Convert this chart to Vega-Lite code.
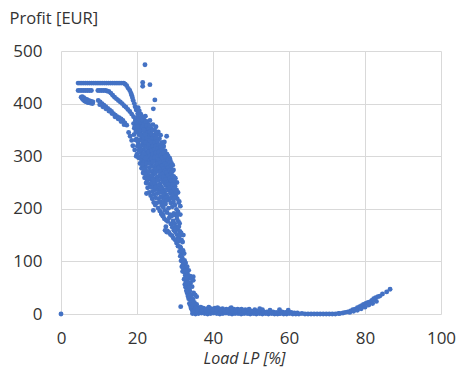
{
  "$schema": "https://vega.github.io/schema/vega-lite/v6.json",
  "width": 380,
  "height": 263,
  "autosize": "none",
  "padding": {"left": 61, "top": 51, "right": 19, "bottom": 53},
  "config": {
    "view": {"stroke": null},
    "font": "Open Sans",
    "axis": {
      "labelFont": "Open Sans",
      "titleFont": "Open Sans",
      "labelColor": "#333333",
      "titleColor": "#333333",
      "gridColor": "#d9d9d9",
      "gridWidth": 1,
      "ticks": false,
      "tickSize": 0,
      "domain": false,
      "labelFontSize": 17,
      "labelFlush": false,
      "titleFontWeight": "normal"
    }
  },
  "data": {
    "values": [
      {"load": 0, "profit": 0},
      {"load": 4.5, "profit": 439}, {"load": 5.0, "profit": 439}, {"load": 5.5, "profit": 439}, {"load": 6.0, "profit": 439},
      {"load": 6.5, "profit": 439}, {"load": 7.0, "profit": 439}, {"load": 7.5, "profit": 439}, {"load": 8.0, "profit": 439},
      {"load": 8.5, "profit": 439}, {"load": 9.0, "profit": 439}, {"load": 9.5, "profit": 439}, {"load": 10.0, "profit": 439},
      {"load": 10.5, "profit": 439}, {"load": 11.0, "profit": 439}, {"load": 11.5, "profit": 439}, {"load": 12.0, "profit": 439},
      {"load": 12.5, "profit": 439}, {"load": 13.0, "profit": 439}, {"load": 13.5, "profit": 439}, {"load": 14.0, "profit": 439},
      {"load": 14.5, "profit": 439}, {"load": 15.0, "profit": 439}, {"load": 15.5, "profit": 439}, {"load": 16.0, "profit": 439},
      {"load": 16.5, "profit": 439},
      {"load": 16.9, "profit": 437}, {"load": 17.3, "profit": 434}, {"load": 17.7, "profit": 429}, {"load": 18.1, "profit": 425},
      {"load": 18.4, "profit": 420}, {"load": 18.6, "profit": 416}, {"load": 18.8, "profit": 411}, {"load": 19.0, "profit": 406},
      {"load": 19.3, "profit": 400}, {"load": 19.5, "profit": 394}, {"load": 19.8, "profit": 388}, {"load": 20.2, "profit": 381},

      {"load": 4.5, "profit": 425}, {"load": 5.0, "profit": 425}, {"load": 5.5, "profit": 425}, {"load": 6.0, "profit": 425},
      {"load": 6.5, "profit": 425}, {"load": 7.0, "profit": 425}, {"load": 7.5, "profit": 425}, {"load": 8.0, "profit": 425},
      {"load": 9.7, "profit": 425}, {"load": 10.2, "profit": 425}, {"load": 10.7, "profit": 425}, {"load": 11.2, "profit": 425},
      {"load": 11.7, "profit": 425}, {"load": 12.1, "profit": 424}, {"load": 12.6, "profit": 423}, {"load": 13.1, "profit": 420},
      {"load": 13.6, "profit": 416}, {"load": 14.1, "profit": 412}, {"load": 14.6, "profit": 409}, {"load": 15.1, "profit": 406},
      {"load": 15.6, "profit": 403}, {"load": 16.1, "profit": 400}, {"load": 16.6, "profit": 396}, {"load": 17.1, "profit": 393},
      {"load": 17.6, "profit": 389}, {"load": 18.1, "profit": 385}, {"load": 18.6, "profit": 380}, {"load": 19.1, "profit": 375},
      {"load": 19.6, "profit": 369}, {"load": 20.1, "profit": 363}, {"load": 20.6, "profit": 357},

      {"load": 5.3, "profit": 412}, {"load": 5.6, "profit": 409}, {"load": 5.9, "profit": 407}, {"load": 6.2, "profit": 405},
      {"load": 6.5, "profit": 404}, {"load": 6.8, "profit": 403}, {"load": 7.1, "profit": 402}, {"load": 7.4, "profit": 402},
      {"load": 7.7, "profit": 401}, {"load": 8.0, "profit": 401}, {"load": 8.3, "profit": 400}, {"load": 5.6, "profit": 413},
      {"load": 6.0, "profit": 411}, {"load": 6.4, "profit": 409}, {"load": 6.8, "profit": 408}, {"load": 7.2, "profit": 406},
      {"load": 7.6, "profit": 405}, {"load": 8.0, "profit": 404}, {"load": 8.4, "profit": 403},
      {"load": 9.8, "profit": 406}, {"load": 10.3, "profit": 403}, {"load": 10.8, "profit": 400}, {"load": 11.3, "profit": 397},
      {"load": 11.8, "profit": 394}, {"load": 12.3, "profit": 391}, {"load": 12.8, "profit": 388}, {"load": 13.3, "profit": 385},
      {"load": 13.8, "profit": 381}, {"load": 14.3, "profit": 378}, {"load": 14.8, "profit": 375}, {"load": 15.3, "profit": 373},
      {"load": 15.8, "profit": 371}, {"load": 16.3, "profit": 368}, {"load": 16.8, "profit": 363}, {"load": 17.3, "profit": 359},
      {"load": 10.2, "profit": 398}, {"load": 11.0, "profit": 394}, {"load": 11.8, "profit": 390}, {"load": 12.6, "profit": 386},
      {"load": 13.4, "profit": 381}, {"load": 14.2, "profit": 375}, {"load": 15.0, "profit": 371}, {"load": 15.8, "profit": 366},
      {"load": 16.6, "profit": 360}, {"load": 17.8, "profit": 345}, {"load": 18.2, "profit": 338}, {"load": 18.6, "profit": 330},
      {"load": 18.9, "profit": 320}, {"load": 19.4, "profit": 312}, {"load": 19.8, "profit": 300},

      {"load": 22.1, "profit": 474}, {"load": 21.5, "profit": 440}, {"load": 21.5, "profit": 433}, {"load": 23.4, "profit": 436},
      {"load": 24.7, "profit": 407}, {"load": 24.3, "profit": 390},
      {"load": 22.5, "profit": 229}, {"load": 24.3, "profit": 197}, {"load": 26.9, "profit": 188}, {"load": 27.8, "profit": 156},
      {"load": 26.5, "profit": 191}, {"load": 27.4, "profit": 159},

      {"load": 19.2, "profit": 341}, {"load": 19.3, "profit": 353}, {"load": 19.1, "profit": 362},
      {"load": 19.6, "profit": 331}, {"load": 19.7, "profit": 346}, {"load": 19.5, "profit": 357}, {"load": 19.6, "profit": 367},
      {"load": 20.0, "profit": 304}, {"load": 20.1, "profit": 319}, {"load": 19.9, "profit": 333}, {"load": 20.0, "profit": 349}, {"load": 20.1, "profit": 361}, {"load": 20.2, "profit": 374},
      {"load": 20.4, "profit": 297}, {"load": 20.5, "profit": 311}, {"load": 20.3, "profit": 326}, {"load": 20.5, "profit": 341}, {"load": 20.4, "profit": 353}, {"load": 20.6, "profit": 366},
      {"load": 20.8, "profit": 286}, {"load": 20.9, "profit": 299}, {"load": 20.7, "profit": 316}, {"load": 20.9, "profit": 331}, {"load": 20.8, "profit": 344}, {"load": 21.0, "profit": 357},
      {"load": 21.2, "profit": 277}, {"load": 21.3, "profit": 291}, {"load": 21.1, "profit": 306}, {"load": 21.3, "profit": 321}, {"load": 21.2, "profit": 337}, {"load": 21.4, "profit": 349}, {"load": 21.2, "profit": 362},
      {"load": 21.6, "profit": 268}, {"load": 21.7, "profit": 283}, {"load": 21.5, "profit": 297}, {"load": 21.7, "profit": 313}, {"load": 21.6, "profit": 327}, {"load": 21.8, "profit": 341}, {"load": 21.6, "profit": 354},
      {"load": 22.0, "profit": 259}, {"load": 22.1, "profit": 272}, {"load": 21.9, "profit": 289}, {"load": 22.1, "profit": 303}, {"load": 22.0, "profit": 318}, {"load": 22.2, "profit": 332}, {"load": 22.0, "profit": 347}, {"load": 22.1, "profit": 358},
      {"load": 22.4, "profit": 249}, {"load": 22.5, "profit": 263}, {"load": 22.3, "profit": 279}, {"load": 22.5, "profit": 293}, {"load": 22.4, "profit": 309}, {"load": 22.6, "profit": 326}, {"load": 22.4, "profit": 339}, {"load": 22.5, "profit": 351},
      {"load": 22.8, "profit": 240}, {"load": 22.9, "profit": 255}, {"load": 22.7, "profit": 271}, {"load": 22.9, "profit": 287}, {"load": 22.8, "profit": 301}, {"load": 23.0, "profit": 315}, {"load": 22.8, "profit": 330}, {"load": 22.9, "profit": 344},
      {"load": 23.2, "profit": 231}, {"load": 23.3, "profit": 247}, {"load": 23.1, "profit": 262}, {"load": 23.3, "profit": 278}, {"load": 23.2, "profit": 294}, {"load": 23.4, "profit": 309}, {"load": 23.2, "profit": 323}, {"load": 23.3, "profit": 339},
      {"load": 23.6, "profit": 225}, {"load": 23.7, "profit": 241}, {"load": 23.5, "profit": 256}, {"load": 23.7, "profit": 271}, {"load": 23.6, "profit": 288}, {"load": 23.8, "profit": 302}, {"load": 23.6, "profit": 317}, {"load": 23.7, "profit": 333},
      {"load": 24.0, "profit": 219}, {"load": 24.1, "profit": 233}, {"load": 23.9, "profit": 249}, {"load": 24.1, "profit": 264}, {"load": 24.0, "profit": 281}, {"load": 24.2, "profit": 296}, {"load": 24.0, "profit": 311}, {"load": 24.1, "profit": 327}, {"load": 24.0, "profit": 341},
      {"load": 24.4, "profit": 212}, {"load": 24.5, "profit": 227}, {"load": 24.3, "profit": 243}, {"load": 24.5, "profit": 257}, {"load": 24.4, "profit": 273}, {"load": 24.6, "profit": 291}, {"load": 24.4, "profit": 304}, {"load": 24.5, "profit": 319}, {"load": 24.4, "profit": 333},
      {"load": 24.8, "profit": 207}, {"load": 24.9, "profit": 221}, {"load": 24.7, "profit": 236}, {"load": 24.9, "profit": 253}, {"load": 24.8, "profit": 268}, {"load": 25.0, "profit": 283}, {"load": 24.8, "profit": 299}, {"load": 24.9, "profit": 314}, {"load": 24.8, "profit": 327},
      {"load": 25.2, "profit": 211}, {"load": 25.3, "profit": 229}, {"load": 25.1, "profit": 245}, {"load": 25.3, "profit": 261}, {"load": 25.2, "profit": 279}, {"load": 25.4, "profit": 292}, {"load": 25.2, "profit": 307}, {"load": 25.3, "profit": 321},
      {"load": 25.6, "profit": 201}, {"load": 25.7, "profit": 219}, {"load": 25.5, "profit": 237}, {"load": 25.7, "profit": 254}, {"load": 25.6, "profit": 271}, {"load": 25.8, "profit": 286}, {"load": 25.6, "profit": 301}, {"load": 25.7, "profit": 315},
      {"load": 26.0, "profit": 196}, {"load": 26.1, "profit": 213}, {"load": 25.9, "profit": 231}, {"load": 26.1, "profit": 247}, {"load": 26.0, "profit": 263}, {"load": 26.2, "profit": 281}, {"load": 26.0, "profit": 295}, {"load": 26.1, "profit": 309},
      {"load": 26.4, "profit": 190}, {"load": 26.5, "profit": 207}, {"load": 26.3, "profit": 223}, {"load": 26.5, "profit": 241}, {"load": 26.4, "profit": 259}, {"load": 26.6, "profit": 274}, {"load": 26.4, "profit": 289}, {"load": 26.5, "profit": 305},
      {"load": 26.8, "profit": 186}, {"load": 26.9, "profit": 203}, {"load": 26.7, "profit": 221}, {"load": 26.9, "profit": 237}, {"load": 26.8, "profit": 253}, {"load": 27.0, "profit": 269}, {"load": 26.8, "profit": 285}, {"load": 26.9, "profit": 299}, {"load": 26.9, "profit": 321},
      {"load": 27.2, "profit": 181}, {"load": 27.3, "profit": 197}, {"load": 27.1, "profit": 213}, {"load": 27.3, "profit": 233}, {"load": 27.2, "profit": 249}, {"load": 27.4, "profit": 265}, {"load": 27.2, "profit": 281}, {"load": 27.3, "profit": 295},
      {"load": 27.6, "profit": 166}, {"load": 27.7, "profit": 178}, {"load": 27.5, "profit": 209}, {"load": 27.7, "profit": 227}, {"load": 27.6, "profit": 245}, {"load": 27.8, "profit": 263}, {"load": 27.6, "profit": 277}, {"load": 27.7, "profit": 291}, {"load": 27.8, "profit": 338},
      {"load": 28.0, "profit": 158}, {"load": 28.1, "profit": 176}, {"load": 27.9, "profit": 193}, {"load": 28.1, "profit": 222}, {"load": 28.0, "profit": 239}, {"load": 28.2, "profit": 257}, {"load": 28.0, "profit": 273}, {"load": 28.1, "profit": 287},
      {"load": 28.4, "profit": 155}, {"load": 28.5, "profit": 183}, {"load": 28.3, "profit": 201}, {"load": 28.5, "profit": 217}, {"load": 28.4, "profit": 235}, {"load": 28.6, "profit": 251}, {"load": 28.4, "profit": 267}, {"load": 28.5, "profit": 283},
      {"load": 28.8, "profit": 151}, {"load": 28.9, "profit": 171}, {"load": 28.7, "profit": 189}, {"load": 28.9, "profit": 211}, {"load": 28.8, "profit": 229}, {"load": 29.0, "profit": 247}, {"load": 28.8, "profit": 263}, {"load": 28.9, "profit": 277},
      {"load": 29.2, "profit": 149}, {"load": 29.3, "profit": 165}, {"load": 29.1, "profit": 186}, {"load": 29.3, "profit": 204}, {"load": 29.2, "profit": 221}, {"load": 29.4, "profit": 239}, {"load": 29.2, "profit": 255}, {"load": 29.3, "profit": 271},
      {"load": 29.6, "profit": 144}, {"load": 29.7, "profit": 159}, {"load": 29.5, "profit": 177}, {"load": 29.7, "profit": 191}, {"load": 29.6, "profit": 213}, {"load": 29.8, "profit": 231}, {"load": 29.6, "profit": 249}, {"load": 29.7, "profit": 261},
      {"load": 30.0, "profit": 141}, {"load": 30.1, "profit": 156}, {"load": 29.9, "profit": 172}, {"load": 30.1, "profit": 188}, {"load": 30.0, "profit": 207}, {"load": 30.2, "profit": 225}, {"load": 30.0, "profit": 243},
      {"load": 30.4, "profit": 135}, {"load": 30.5, "profit": 151}, {"load": 30.3, "profit": 166}, {"load": 30.5, "profit": 181}, {"load": 30.4, "profit": 199}, {"load": 30.6, "profit": 219}, {"load": 30.4, "profit": 236},
      {"load": 30.8, "profit": 129}, {"load": 30.9, "profit": 146}, {"load": 30.7, "profit": 161}, {"load": 30.9, "profit": 176}, {"load": 30.8, "profit": 194}, {"load": 31.0, "profit": 212},
      {"load": 31.2, "profit": 119}, {"load": 31.3, "profit": 128}, {"load": 31.1, "profit": 143}, {"load": 31.3, "profit": 157}, {"load": 31.2, "profit": 172}, {"load": 31.4, "profit": 189},
      {"load": 31.6, "profit": 101}, {"load": 31.7, "profit": 113}, {"load": 31.5, "profit": 126}, {"load": 31.7, "profit": 141}, {"load": 31.6, "profit": 154},
      {"load": 32.0, "profit": 81}, {"load": 32.1, "profit": 94}, {"load": 31.9, "profit": 107}, {"load": 32.1, "profit": 121}, {"load": 32.0, "profit": 137}, {"load": 32.2, "profit": 150},
      {"load": 32.4, "profit": 66}, {"load": 32.5, "profit": 79}, {"load": 32.3, "profit": 91}, {"load": 32.5, "profit": 102}, {"load": 32.4, "profit": 115},
      {"load": 32.8, "profit": 51}, {"load": 32.9, "profit": 61}, {"load": 32.7, "profit": 73}, {"load": 32.9, "profit": 86}, {"load": 32.8, "profit": 97},
      {"load": 33.2, "profit": 40}, {"load": 33.3, "profit": 51}, {"load": 33.1, "profit": 63}, {"load": 33.3, "profit": 76}, {"load": 33.2, "profit": 90},
      {"load": 33.6, "profit": 29}, {"load": 33.7, "profit": 42}, {"load": 33.5, "profit": 55}, {"load": 33.7, "profit": 68}, {"load": 33.6, "profit": 83},
      {"load": 34.0, "profit": 17}, {"load": 34.1, "profit": 31}, {"load": 33.9, "profit": 44}, {"load": 34.1, "profit": 59}, {"load": 34.0, "profit": 72},
      {"load": 34.4, "profit": 9}, {"load": 34.5, "profit": 22}, {"load": 34.3, "profit": 36}, {"load": 34.5, "profit": 52}, {"load": 34.4, "profit": 67},
      {"load": 34.8, "profit": 4}, {"load": 34.9, "profit": 14}, {"load": 34.7, "profit": 28}, {"load": 34.9, "profit": 40}, {"load": 34.8, "profit": 64}, {"load": 34.8, "profit": 71},
      {"load": 35.2, "profit": 2}, {"load": 35.3, "profit": 10}, {"load": 35.1, "profit": 22}, {"load": 35.3, "profit": 36},
      {"load": 35.6, "profit": 6}, {"load": 35.7, "profit": 18}, {"load": 35.7, "profit": 33},
      {"load": 36.0, "profit": 4}, {"load": 36.1, "profit": 12}, {"load": 31.5, "profit": 14},

      {"load": 21.8, "profit": 370}, {"load": 22.2, "profit": 376}, {"load": 22.6, "profit": 366}, {"load": 23.0, "profit": 360},
      {"load": 23.4, "profit": 368}, {"load": 23.8, "profit": 352}, {"load": 24.2, "profit": 360}, {"load": 24.6, "profit": 350},
      {"load": 25.0, "profit": 356}, {"load": 25.2, "profit": 340}, {"load": 25.6, "profit": 346}, {"load": 25.9, "profit": 333},
      {"load": 26.2, "profit": 340}, {"load": 26.6, "profit": 326}, {"load": 27.0, "profit": 318}, {"load": 27.4, "profit": 310},
      {"load": 27.2, "profit": 327}, {"load": 27.9, "profit": 304}, {"load": 28.2, "profit": 300}, {"load": 28.6, "profit": 296},
      {"load": 28.8, "profit": 291}, {"load": 29.1, "profit": 286}, {"load": 29.4, "profit": 283}, {"load": 29.6, "profit": 274},
      {"load": 30.1, "profit": 258}, {"load": 30.5, "profit": 250}, {"load": 30.8, "profit": 231}, {"load": 31.1, "profit": 214},
      {"load": 31.4, "profit": 205}, {"load": 21.0, "profit": 380}, {"load": 20.6, "profit": 386}, {"load": 21.4, "profit": 375},
      {"load": 20.3, "profit": 392},

      {"load": 20.2, "profit": 330}, {"load": 20.2, "profit": 356}, {"load": 20.6, "profit": 320}, {"load": 20.6, "profit": 348}, {"load": 20.6, "profit": 372},
      {"load": 21.0, "profit": 295}, {"load": 21.0, "profit": 312}, {"load": 21.0, "profit": 340}, {"load": 21.0, "profit": 365},
      {"load": 21.4, "profit": 284}, {"load": 21.4, "profit": 300}, {"load": 21.4, "profit": 330}, {"load": 21.4, "profit": 356}, {"load": 21.4, "profit": 368},
      {"load": 21.8, "profit": 275}, {"load": 21.8, "profit": 305}, {"load": 21.8, "profit": 335}, {"load": 21.8, "profit": 350}, {"load": 21.8, "profit": 362},
      {"load": 22.2, "profit": 266}, {"load": 22.2, "profit": 296}, {"load": 22.2, "profit": 325}, {"load": 22.2, "profit": 341}, {"load": 22.2, "profit": 365},
      {"load": 22.6, "profit": 256}, {"load": 22.6, "profit": 286}, {"load": 22.6, "profit": 318}, {"load": 22.6, "profit": 334}, {"load": 22.6, "profit": 358},
      {"load": 23.0, "profit": 270}, {"load": 23.0, "profit": 308}, {"load": 23.0, "profit": 322}, {"load": 23.0, "profit": 352},
      {"load": 23.4, "profit": 260}, {"load": 23.4, "profit": 286}, {"load": 23.4, "profit": 300}, {"load": 23.4, "profit": 330}, {"load": 23.4, "profit": 346}, {"load": 23.4, "profit": 358},
      {"load": 23.8, "profit": 262}, {"load": 23.8, "profit": 296}, {"load": 23.8, "profit": 310}, {"load": 23.8, "profit": 326}, {"load": 23.8, "profit": 342},
      {"load": 24.2, "profit": 256}, {"load": 24.2, "profit": 289}, {"load": 24.2, "profit": 304}, {"load": 24.2, "profit": 320}, {"load": 24.2, "profit": 335}, {"load": 24.2, "profit": 350},
      {"load": 24.6, "profit": 248}, {"load": 24.6, "profit": 280}, {"load": 24.6, "profit": 298}, {"load": 24.6, "profit": 312}, {"load": 24.6, "profit": 326}, {"load": 24.6, "profit": 340},
      {"load": 25.0, "profit": 242}, {"load": 25.0, "profit": 276}, {"load": 25.0, "profit": 306}, {"load": 25.0, "profit": 320}, {"load": 25.0, "profit": 334}, {"load": 25.0, "profit": 346},
      {"load": 25.4, "profit": 254}, {"load": 25.4, "profit": 286}, {"load": 25.4, "profit": 300}, {"load": 25.4, "profit": 314}, {"load": 25.4, "profit": 328},
      {"load": 25.8, "profit": 244}, {"load": 25.8, "profit": 278}, {"load": 25.8, "profit": 294}, {"load": 25.8, "profit": 308}, {"load": 25.8, "profit": 322},
      {"load": 26.2, "profit": 238}, {"load": 26.2, "profit": 270}, {"load": 26.2, "profit": 288}, {"load": 26.2, "profit": 302}, {"load": 26.2, "profit": 316},
      {"load": 26.6, "profit": 232}, {"load": 26.6, "profit": 266}, {"load": 26.6, "profit": 282}, {"load": 26.6, "profit": 297}, {"load": 26.6, "profit": 312},
      {"load": 27.0, "profit": 226}, {"load": 27.0, "profit": 260}, {"load": 27.0, "profit": 276}, {"load": 27.0, "profit": 290}, {"load": 27.0, "profit": 306},
      {"load": 27.4, "profit": 220}, {"load": 27.4, "profit": 256}, {"load": 27.4, "profit": 272}, {"load": 27.4, "profit": 286}, {"load": 27.4, "profit": 300},
      {"load": 27.8, "profit": 216}, {"load": 27.8, "profit": 250}, {"load": 27.8, "profit": 268}, {"load": 27.8, "profit": 282},
      {"load": 28.2, "profit": 246}, {"load": 28.2, "profit": 264}, {"load": 28.2, "profit": 278}, {"load": 28.2, "profit": 292},
      {"load": 28.6, "profit": 240}, {"load": 28.6, "profit": 258}, {"load": 28.6, "profit": 272}, {"load": 28.6, "profit": 288},
      {"load": 29.0, "profit": 232}, {"load": 29.0, "profit": 254}, {"load": 29.0, "profit": 268}, {"load": 29.0, "profit": 282},
      {"load": 29.4, "profit": 226}, {"load": 29.4, "profit": 246}, {"load": 29.4, "profit": 262},
      {"load": 29.8, "profit": 220}, {"load": 29.8, "profit": 238}, {"load": 29.8, "profit": 254},
      {"load": 30.2, "profit": 162}, {"load": 30.2, "profit": 232}, {"load": 30.6, "profit": 140}, {"load": 30.6, "profit": 188},
      {"load": 31.0, "profit": 138}, {"load": 31.0, "profit": 166}, {"load": 31.4, "profit": 110}, {"load": 31.4, "profit": 150},
      {"load": 31.8, "profit": 90}, {"load": 31.8, "profit": 120}, {"load": 32.2, "profit": 86}, {"load": 32.2, "profit": 100},
      {"load": 32.6, "profit": 56}, {"load": 32.6, "profit": 82}, {"load": 33.0, "profit": 44}, {"load": 33.0, "profit": 70},
      {"load": 33.4, "profit": 34}, {"load": 33.4, "profit": 60}, {"load": 33.8, "profit": 20}, {"load": 33.8, "profit": 50},
      {"load": 34.2, "profit": 12}, {"load": 34.2, "profit": 26}, {"load": 34.6, "profit": 6}, {"load": 34.6, "profit": 18},

      {"load": 34.6, "profit": 1}, {"load": 35.4, "profit": 0}, {"load": 36.2, "profit": 1}, {"load": 37.0, "profit": 2}, {"load": 37.8, "profit": 1},
      {"load": 38.6, "profit": 0}, {"load": 39.4, "profit": 1}, {"load": 40.2, "profit": 2}, {"load": 41.0, "profit": 1}, {"load": 41.8, "profit": 0},
      {"load": 42.6, "profit": 1}, {"load": 43.4, "profit": 2}, {"load": 44.2, "profit": 1}, {"load": 45.0, "profit": 0}, {"load": 45.8, "profit": 1},
      {"load": 46.6, "profit": 1}, {"load": 47.4, "profit": 0}, {"load": 48.2, "profit": 1}, {"load": 49.0, "profit": 1}, {"load": 49.8, "profit": 0},
      {"load": 50.6, "profit": 1}, {"load": 51.4, "profit": 0}, {"load": 52.2, "profit": 1}, {"load": 53.0, "profit": 0}, {"load": 53.8, "profit": 1},
      {"load": 54.6, "profit": 0}, {"load": 55.4, "profit": 1}, {"load": 56.2, "profit": 0}, {"load": 57.0, "profit": 0}, {"load": 57.8, "profit": 1},
      {"load": 58.6, "profit": 0}, {"load": 59.4, "profit": 0}, {"load": 60.2, "profit": 1}, {"load": 61.0, "profit": 0}, {"load": 61.8, "profit": 0},
      {"load": 62.6, "profit": 0}, {"load": 63.4, "profit": 1}, {"load": 64.2, "profit": 0}, {"load": 65.0, "profit": 0}, {"load": 65.8, "profit": 0},
      {"load": 66.6, "profit": 0}, {"load": 67.4, "profit": 0}, {"load": 68.2, "profit": 0}, {"load": 69.0, "profit": 0}, {"load": 69.8, "profit": 0},
      {"load": 70.6, "profit": 0}, {"load": 71.4, "profit": 0}, {"load": 72.2, "profit": 0}, {"load": 73.0, "profit": 1},
      {"load": 35.0, "profit": 3}, {"load": 36.6, "profit": 3}, {"load": 38.2, "profit": 3}, {"load": 39.8, "profit": 3}, {"load": 41.4, "profit": 3},
      {"load": 43.0, "profit": 3}, {"load": 44.6, "profit": 3}, {"load": 46.2, "profit": 3}, {"load": 47.8, "profit": 2}, {"load": 49.4, "profit": 2},
      {"load": 51.0, "profit": 2}, {"load": 52.6, "profit": 2}, {"load": 54.2, "profit": 2}, {"load": 55.8, "profit": 2}, {"load": 57.4, "profit": 1},

      {"load": 35.0, "profit": 6}, {"load": 35.8, "profit": 5}, {"load": 36.6, "profit": 6}, {"load": 37.4, "profit": 5}, {"load": 38.2, "profit": 6},
      {"load": 39.0, "profit": 5}, {"load": 39.8, "profit": 6}, {"load": 40.6, "profit": 5}, {"load": 41.4, "profit": 6}, {"load": 42.2, "profit": 5},
      {"load": 43.0, "profit": 5}, {"load": 43.8, "profit": 6}, {"load": 44.6, "profit": 5}, {"load": 45.4, "profit": 5}, {"load": 46.2, "profit": 6},
      {"load": 47.0, "profit": 5}, {"load": 47.8, "profit": 4}, {"load": 48.6, "profit": 5}, {"load": 49.4, "profit": 4}, {"load": 50.2, "profit": 5},
      {"load": 51.0, "profit": 4}, {"load": 51.8, "profit": 4}, {"load": 52.6, "profit": 5}, {"load": 53.4, "profit": 4}, {"load": 54.2, "profit": 4},
      {"load": 55.0, "profit": 3}, {"load": 55.8, "profit": 4}, {"load": 56.6, "profit": 3}, {"load": 57.4, "profit": 3}, {"load": 58.2, "profit": 4},
      {"load": 59.0, "profit": 3}, {"load": 59.8, "profit": 3}, {"load": 60.6, "profit": 3}, {"load": 61.4, "profit": 2}, {"load": 62.2, "profit": 2},

      {"load": 35.5, "profit": 11}, {"load": 36.5, "profit": 10}, {"load": 37.5, "profit": 11}, {"load": 38.5, "profit": 10}, {"load": 39.5, "profit": 10},
      {"load": 40.5, "profit": 11}, {"load": 41.5, "profit": 10}, {"load": 42.5, "profit": 10}, {"load": 43.5, "profit": 9}, {"load": 44.5, "profit": 10},
      {"load": 45.5, "profit": 9}, {"load": 46.5, "profit": 9}, {"load": 47.5, "profit": 9}, {"load": 48.5, "profit": 8}, {"load": 49.5, "profit": 9},
      {"load": 51.0, "profit": 8}, {"load": 53.0, "profit": 8}, {"load": 55.0, "profit": 7},
      {"load": 36.0, "profit": 8}, {"load": 37.0, "profit": 8}, {"load": 38.0, "profit": 8}, {"load": 39.0, "profit": 8}, {"load": 40.0, "profit": 8},
      {"load": 41.0, "profit": 8}, {"load": 42.0, "profit": 8}, {"load": 43.0, "profit": 7}, {"load": 44.0, "profit": 7}, {"load": 45.0, "profit": 7},
      {"load": 46.0, "profit": 7}, {"load": 47.0, "profit": 7}, {"load": 48.0, "profit": 6}, {"load": 50.0, "profit": 6}, {"load": 52.0, "profit": 6},
      {"load": 36.8, "profit": 13}, {"load": 38.9, "profit": 13}, {"load": 41.2, "profit": 12}, {"load": 44.8, "profit": 12},
      {"load": 52.3, "profit": 10}, {"load": 57.5, "profit": 8}, {"load": 59.8, "profit": 7},

      {"load": 73.4, "profit": 1}, {"load": 74.2, "profit": 2}, {"load": 74.8, "profit": 3}, {"load": 75.5, "profit": 4}, {"load": 76.2, "profit": 6},
      {"load": 76.8, "profit": 8}, {"load": 77.4, "profit": 9}, {"load": 78.0, "profit": 12}, {"load": 78.6, "profit": 14}, {"load": 79.1, "profit": 16},
      {"load": 79.6, "profit": 18}, {"load": 80.2, "profit": 20}, {"load": 80.8, "profit": 22}, {"load": 81.3, "profit": 23}, {"load": 81.8, "profit": 26},
      {"load": 82.3, "profit": 29}, {"load": 82.8, "profit": 31}, {"load": 83.4, "profit": 33}, {"load": 83.9, "profit": 34}, {"load": 84.6, "profit": 38},
      {"load": 85.7, "profit": 42}, {"load": 86.6, "profit": 47},
      {"load": 76.0, "profit": 3}, {"load": 77.0, "profit": 5}, {"load": 78.0, "profit": 7}, {"load": 79.0, "profit": 10},
      {"load": 80.0, "profit": 13}, {"load": 81.0, "profit": 17}, {"load": 82.0, "profit": 20}, {"load": 83.0, "profit": 24}
    ]
  },
  "mark": {"type": "circle", "color": "#4472C4", "size": 24, "opacity": 1},
  "encoding": {
    "x": {
      "field": "load",
      "type": "quantitative",
      "scale": {"domain": [0, 100], "nice": false, "zero": true},
      "axis": {
        "values": [0, 20, 40, 60, 80, 100],
        "labelPadding": 16,
        "title": "Load LP [%]",
        "titleFontStyle": "italic",
        "titleFontSize": 16,
        "titleX": 183,
        "titleY": 44,
        "titleBaseline": "middle",
        "titleAlign": "center"
      }
    },
    "y": {
      "field": "profit",
      "type": "quantitative",
      "scale": {"domain": [0, 500], "nice": false},
      "axis": {
        "values": [0, 100, 200, 300, 400, 500],
        "labelPadding": 19,
        "title": "Profit [EUR]",
        "titleAngle": 0,
        "titleFontSize": 16.5,
        "titleAlign": "left",
        "titleBaseline": "middle",
        "titleX": -52,
        "titleY": -33
      }
    }
  }
}
